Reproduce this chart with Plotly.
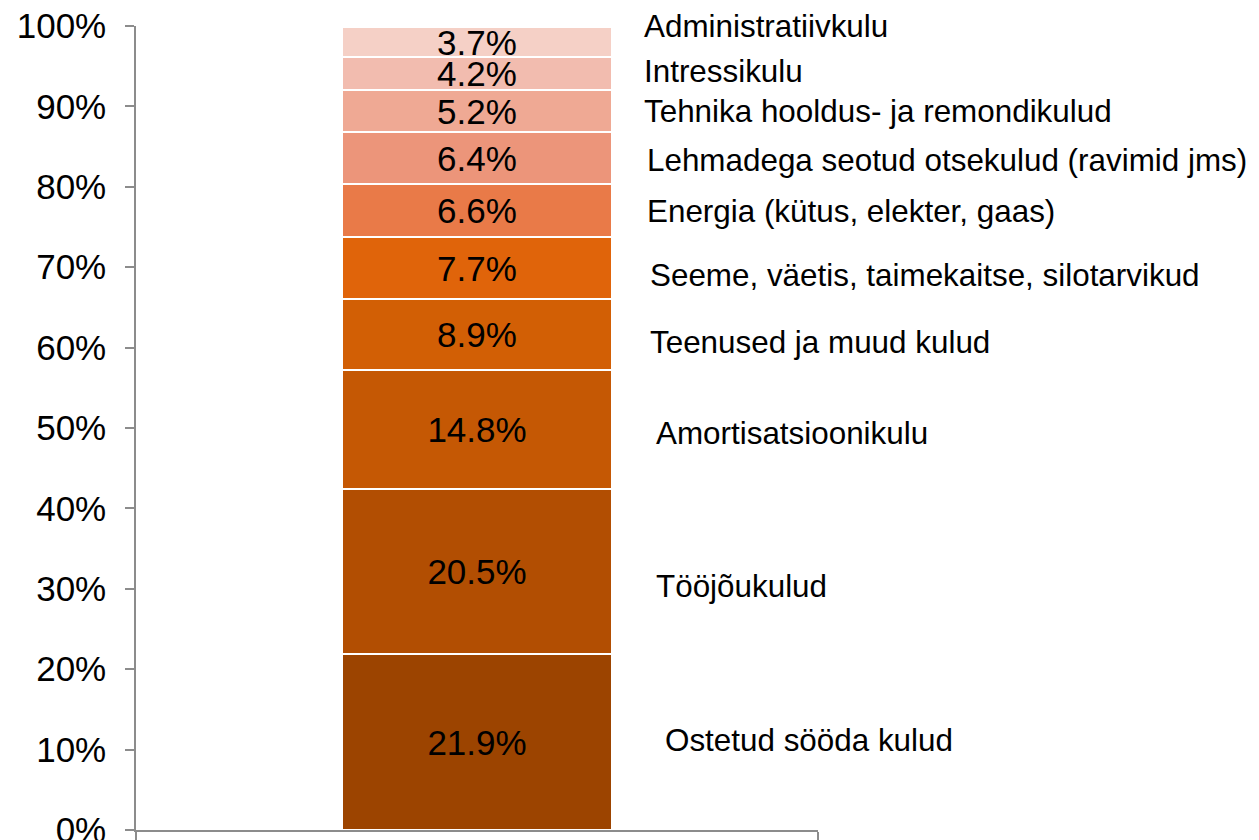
import plotly.graph_objects as go

categories = ["Ostetud sööda kulud", "Tööjõukulud", "Amortisatsioonikulu",
              "Teenused ja muud kulud", "Seeme, väetis, taimekaitse, silotarvikud",
              "Energia (kütus, elekter, gaas)", "Lehmadega seotud otsekulud (ravimid jms)",
              "Tehnika hooldus- ja remondikulud", "Intressikulu", "Administratiivkulu"]
values = [21.9, 20.5, 14.8, 8.9, 7.7, 6.6, 6.4, 5.2, 4.2, 3.7]
colors = ["#9C4400", "#B24E02", "#C55804", "#D25F05", "#E0640A",
          "#E97A48", "#EC957A", "#EFA994", "#F2BCAF", "#F5D0C6"]
# label placement (layout only)
label_y = [11.1, 30.3, 49.3, 60.6, 69.0, 76.9, 83.3, 89.4, 94.4, 100.0]
label_x = [0.773, 0.760, 0.760, 0.751, 0.751, 0.747, 0.747, 0.742, 0.742, 0.742]
ytick_vals = list(range(0, 101, 10))
ytick_text = [f"{v}%" for v in ytick_vals]

FONT = "Liberation Sans, Arial, sans-serif"

fig = go.Figure()
for name, v, c in zip(categories, values, colors):
    fig.add_trace(go.Bar(
        x=["A"], y=[v], name=name, width=0.396,
        marker=dict(color=c, line=dict(color="white", width=2)),
        text=[f"{v:.1f}%"], textposition="inside", insidetextanchor="middle",
        constraintext="none", textangle=0,
        textfont=dict(family=FONT, size=35, color="black"),
        showlegend=False, hoverinfo="skip",
    ))

for name, ly, lx in zip(categories, label_y, label_x):
    fig.add_annotation(x=lx, xref="paper", y=ly, yref="y", text=name,
                       showarrow=False, xanchor="left", yanchor="middle",
                       font=dict(family=FONT, size=31.4, color="black"))

fig.update_layout(
    barmode="stack", width=1251, height=832,
    margin=dict(l=128, r=441, t=18, b=10, autoexpand=False),
    plot_bgcolor="white", paper_bgcolor="white",
    bargap=0,
)
fig.update_yaxes(range=[0, 100], tickmode="array", tickvals=ytick_vals,
                 ticktext=ytick_text, ticklabeloverflow="allow",
                 showgrid=False, zeroline=False, showline=True,
                 linecolor="#8C8C8C", linewidth=1.5, ticks="outside",
                 ticklen=9, tickcolor="#8C8C8C", tickwidth=1.5,
                 ticklabelstandoff=12, automargin=False,
                 tickfont=dict(family=FONT, size=35, color="black"))
fig.update_xaxes(range=[-0.5, 0.5], showgrid=False, zeroline=False,
                 showline=True, linecolor="#8C8C8C", linewidth=1.5,
                 ticks="outside", tickson="boundaries", ticklen=9,
                 tickcolor="#8C8C8C", tickwidth=1.5, showticklabels=False,
                 automargin=False)

fig.write_html("out.html")
